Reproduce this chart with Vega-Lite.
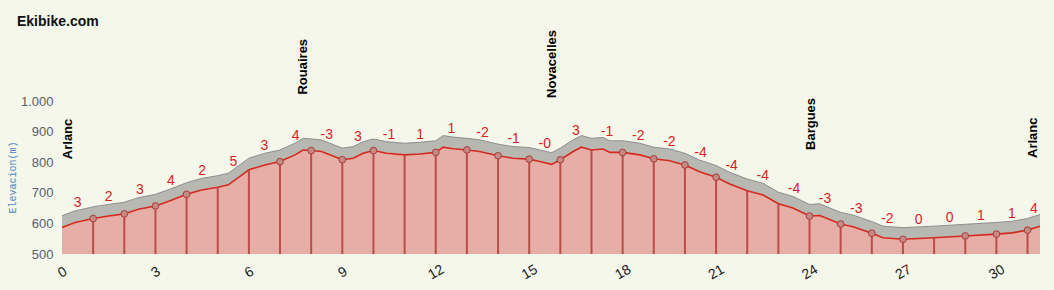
{
  "$schema": "https://vega.github.io/schema/vega-lite/v6.json",
  "width": 978,
  "height": 153,
  "autosize": {"type": "none"},
  "padding": {"left": 62, "top": 101, "right": 14, "bottom": 36},
  "background": "#f4f7ea",
  "config": {"view": {"stroke": null}, "font": "Liberation Sans"},
  "title": {"text": "Ekibike.com", "anchor": "start", "frame": "group", "orient": "top", "offset": -10, "dx": -45, "fontSize": 14, "fontWeight": "bold", "font": "Liberation Sans", "color": "#111111", "baseline": "alphabetic"},
  "datasets": {
    "profile": [
      {"km": 0, "elev": 587}, {"km": 0.42, "elev": 603}, {"km": 1.0, "elev": 616}, {"km": 1.49, "elev": 624},
      {"km": 2.0, "elev": 631}, {"km": 2.45, "elev": 646}, {"km": 3.0, "elev": 657}, {"km": 3.47, "elev": 674},
      {"km": 4.0, "elev": 695}, {"km": 4.48, "elev": 709}, {"km": 5.0, "elev": 718}, {"km": 5.34, "elev": 726},
      {"km": 5.77, "elev": 758}, {"km": 6.0, "elev": 775}, {"km": 6.51, "elev": 791}, {"km": 7.0, "elev": 802},
      {"km": 7.48, "elev": 824}, {"km": 7.74, "elev": 840}, {"km": 8.0, "elev": 838}, {"km": 8.33, "elev": 835},
      {"km": 8.6, "elev": 824}, {"km": 9.0, "elev": 808}, {"km": 9.35, "elev": 813}, {"km": 9.67, "elev": 829},
      {"km": 10.0, "elev": 838}, {"km": 10.42, "elev": 829}, {"km": 11.0, "elev": 824}, {"km": 11.49, "elev": 827},
      {"km": 12.0, "elev": 832}, {"km": 12.24, "elev": 849}, {"km": 12.56, "elev": 844}, {"km": 13.0, "elev": 840},
      {"km": 13.41, "elev": 835}, {"km": 14.0, "elev": 821}, {"km": 14.48, "elev": 813}, {"km": 15.0, "elev": 810},
      {"km": 15.34, "elev": 802}, {"km": 15.72, "elev": 793}, {"km": 16.0, "elev": 808}, {"km": 16.41, "elev": 835},
      {"km": 16.68, "elev": 849}, {"km": 17.0, "elev": 840}, {"km": 17.37, "elev": 843}, {"km": 17.59, "elev": 832},
      {"km": 18.0, "elev": 832}, {"km": 18.55, "elev": 824}, {"km": 19.0, "elev": 811}, {"km": 19.51, "elev": 805},
      {"km": 20.0, "elev": 791}, {"km": 20.47, "elev": 769}, {"km": 21.0, "elev": 751}, {"km": 21.44, "elev": 729},
      {"km": 22.0, "elev": 707}, {"km": 22.51, "elev": 693}, {"km": 23.0, "elev": 664}, {"km": 23.47, "elev": 650},
      {"km": 24.0, "elev": 624}, {"km": 24.33, "elev": 626}, {"km": 25.0, "elev": 598}, {"km": 25.4, "elev": 589},
      {"km": 26.0, "elev": 568}, {"km": 26.36, "elev": 553}, {"km": 27.0, "elev": 548}, {"km": 28.0, "elev": 553},
      {"km": 29.0, "elev": 559}, {"km": 30.0, "elev": 565}, {"km": 30.5, "elev": 569}, {"km": 31.0, "elev": 578},
      {"km": 31.4, "elev": 591}
    ],
    "markers": [
      {"km": 1, "elev": 616, "wp": true}, {"km": 2, "elev": 631, "wp": true}, {"km": 3, "elev": 657, "wp": true},
      {"km": 4, "elev": 695, "wp": true}, {"km": 5, "elev": 718, "wp": false}, {"km": 6, "elev": 775, "wp": false},
      {"km": 7, "elev": 802, "wp": true}, {"km": 8, "elev": 838, "wp": true}, {"km": 9, "elev": 808, "wp": true},
      {"km": 10, "elev": 838, "wp": true}, {"km": 11, "elev": 824, "wp": false}, {"km": 12, "elev": 832, "wp": true},
      {"km": 13, "elev": 840, "wp": true}, {"km": 14, "elev": 821, "wp": true}, {"km": 15, "elev": 810, "wp": true},
      {"km": 16, "elev": 808, "wp": true}, {"km": 17, "elev": 840, "wp": false}, {"km": 18, "elev": 832, "wp": true},
      {"km": 19, "elev": 811, "wp": true}, {"km": 20, "elev": 791, "wp": true}, {"km": 21, "elev": 751, "wp": true},
      {"km": 22, "elev": 707, "wp": false}, {"km": 23, "elev": 664, "wp": false}, {"km": 24, "elev": 624, "wp": true},
      {"km": 25, "elev": 598, "wp": true}, {"km": 26, "elev": 568, "wp": true}, {"km": 27, "elev": 548, "wp": true},
      {"km": 28, "elev": 553, "wp": false}, {"km": 29, "elev": 559, "wp": true}, {"km": 30, "elev": 565, "wp": true},
      {"km": 31, "elev": 578, "wp": true}
    ],
    "grades": [
      {"km": 0.5, "elev": 605, "g": "3"}, {"km": 1.5, "elev": 624, "g": "2"}, {"km": 2.5, "elev": 647, "g": "3"},
      {"km": 3.5, "elev": 675, "g": "4"}, {"km": 4.5, "elev": 709, "g": "2"}, {"km": 5.5, "elev": 738, "g": "5"},
      {"km": 6.5, "elev": 791, "g": "3"}, {"km": 7.5, "elev": 825, "g": "4"}, {"km": 8.5, "elev": 828, "g": "-3"},
      {"km": 9.5, "elev": 820, "g": "3"}, {"km": 10.5, "elev": 828, "g": "-1"}, {"km": 11.5, "elev": 827, "g": "1"},
      {"km": 12.5, "elev": 845, "g": "1"}, {"km": 13.5, "elev": 833, "g": "-2"}, {"km": 14.5, "elev": 813, "g": "-1"},
      {"km": 15.5, "elev": 798, "g": "-0"}, {"km": 16.5, "elev": 840, "g": "3"}, {"km": 17.5, "elev": 836, "g": "-1"},
      {"km": 18.5, "elev": 825, "g": "-2"}, {"km": 19.5, "elev": 805, "g": "-2"}, {"km": 20.5, "elev": 768, "g": "-4"},
      {"km": 21.5, "elev": 727, "g": "-4"}, {"km": 22.5, "elev": 693, "g": "-4"}, {"km": 23.5, "elev": 649, "g": "-4"},
      {"km": 24.5, "elev": 619, "g": "-3"}, {"km": 25.5, "elev": 586, "g": "-3"}, {"km": 26.5, "elev": 552, "g": "-2"},
      {"km": 27.5, "elev": 550, "g": "0"}, {"km": 28.5, "elev": 556, "g": "0"}, {"km": 29.5, "elev": 562, "g": "1"},
      {"km": 30.5, "elev": 569, "g": "1"}, {"km": 31.2, "elev": 584, "g": "4"}
    ],
    "places": [
      {"name": "Arlanc", "km": 0, "elev": 876},
      {"name": "Rouaires", "km": 7.75, "elev": 1112},
      {"name": "Novacelles", "km": 15.72, "elev": 1121},
      {"name": "Bargues", "km": 24.06, "elev": 925},
      {"name": "Arlanc", "km": 31.4, "elev": 880}
    ],
    "grid": [{"elev": 500}, {"elev": 600}, {"elev": 700}, {"elev": 800}, {"elev": 900}, {"elev": 1000}]
  },
  "encoding": {
    "x": {
      "field": "km", "type": "quantitative",
      "scale": {"domain": [0, 31.4], "nice": false, "zero": false},
      "axis": {"values": [0, 3, 6, 9, 12, 15, 18, 21, 24, 27, 30], "title": null, "labelAngle": -30, "labelAlign": "center", "labelBaseline": "middle", "labelPadding": 18, "ticks": false, "domain": false, "grid": false, "labelFontSize": 14, "labelColor": "#222222", "labelFont": "Liberation Sans"}
    }
  },
  "layer": [
    {
      "data": {"name": "profile"},
      "encoding": {
        "y": {"field": "elev", "type": "quantitative", "scale": {"domain": [462, 962], "nice": false, "zero": false}, "axis": null}
      },
      "layer": [
        {"mark": {"type": "area", "color": "#b8b8b3"}, "encoding": {"y2": {"datum": 462}}},
        {"mark": {"type": "line", "color": "#8e8e8e", "strokeWidth": 1}}
      ]
    },
    {
      "encoding": {
        "y": {
          "field": "elev", "type": "quantitative",
          "scale": {"domain": [500, 1000], "nice": false, "zero": false},
          "axis": {"title": "Elevacion(m)", "titleFont": "Liberation Mono", "titleFontSize": 10, "titleColor": "#4f86c6", "titleFontWeight": "normal", "titleX": -50, "titleY": 76, "titleAngle": -90, "titleAlign": "center", "titleBaseline": "middle", "values": [500, 600, 700, 800, 900, 1000], "labelExpr": "replace(datum.label, ',', '.')", "labelFontSize": 13, "labelColor": "#58606b", "labelPadding": 9, "ticks": false, "domain": false, "grid": false, "labelFont": "Liberation Sans"}
        }
      },
      "layer": [
        {"data": {"name": "profile"}, "mark": {"type": "area", "color": "#e6aea6"}, "encoding": {"y2": {"datum": 500}}},
        {"data": {"name": "grid"}, "mark": {"type": "rule", "color": "#000000", "opacity": 0.1, "strokeWidth": 1}, "encoding": {"x": {"datum": 0}, "x2": {"datum": 31.4}}},
        {"data": {"name": "profile"}, "mark": {"type": "line", "color": "#d42a20", "strokeWidth": 1.6}},
        {"data": {"name": "markers"}, "mark": {"type": "rule", "color": "#b5423f", "strokeWidth": 2, "opacity": 0.9}, "encoding": {"y2": {"datum": 500}}},
        {"data": {"name": "markers"}, "transform": [{"filter": "datum.wp"}], "mark": {"type": "point", "shape": "circle", "filled": true, "fill": "#c58a85", "stroke": "#a83c3a", "strokeWidth": 1, "size": 45, "opacity": 1}},
        {"data": {"name": "grades"}, "mark": {"type": "text", "dy": -19, "baseline": "middle", "align": "center", "fontSize": 14, "color": "#d81e1e", "font": "Liberation Sans"}, "encoding": {"text": {"field": "g"}}},
        {"data": {"name": "places"}, "transform": [{"filter": "datum.km > 0 && datum.km < 31"}], "mark": {"type": "text", "angle": -90, "baseline": "middle", "align": "center", "fontSize": 13, "fontWeight": "bold", "stroke": "#f4f7ea", "strokeWidth": 7, "strokeJoin": "round", "color": "#f4f7ea"}, "encoding": {"text": {"field": "name"}}},
        {"data": {"name": "places"}, "transform": [{"filter": "datum.km > 0 && datum.km < 31"}], "mark": {"type": "text", "angle": -90, "baseline": "middle", "align": "center", "fontSize": 13, "fontWeight": "bold", "color": "#000000"}, "encoding": {"text": {"field": "name"}}},
        {"data": {"name": "places"}, "transform": [{"filter": "datum.km == 0"}], "mark": {"type": "text", "angle": -90, "baseline": "top", "align": "center", "fontSize": 13, "fontWeight": "bold", "stroke": "#f4f7ea", "strokeWidth": 7, "strokeJoin": "round", "color": "#f4f7ea"}, "encoding": {"text": {"field": "name"}}},
        {"data": {"name": "places"}, "transform": [{"filter": "datum.km == 0"}], "mark": {"type": "text", "angle": -90, "baseline": "top", "align": "center", "fontSize": 13, "fontWeight": "bold", "color": "#000000"}, "encoding": {"text": {"field": "name"}}},
        {"data": {"name": "places"}, "transform": [{"filter": "datum.km >= 31"}], "mark": {"type": "text", "angle": -90, "baseline": "bottom", "align": "center", "fontSize": 13, "fontWeight": "bold", "stroke": "#f4f7ea", "strokeWidth": 7, "strokeJoin": "round", "color": "#f4f7ea"}, "encoding": {"text": {"field": "name"}}},
        {"data": {"name": "places"}, "transform": [{"filter": "datum.km >= 31"}], "mark": {"type": "text", "angle": -90, "baseline": "bottom", "align": "center", "fontSize": 13, "fontWeight": "bold", "color": "#000000"}, "encoding": {"text": {"field": "name"}}}
      ]
    }
  ],
  "resolve": {"scale": {"y": "independent"}}
}
